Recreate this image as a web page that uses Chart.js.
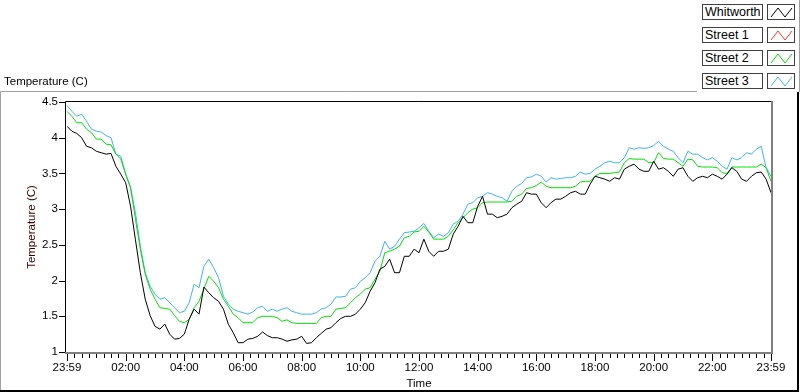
<!DOCTYPE html>
<html>
<head>
<meta charset="utf-8">
<script src="https://cdn.jsdelivr.net/npm/chart.js@4.4.1/dist/chart.umd.min.js"></script>
<style>
  html, body { margin: 0; padding: 0; background: #fff; }
  #wrap { position: relative; width: 800px; height: 392px; overflow: hidden; }
  #legend { position: absolute; left: 702px; top: 4px; font: 12.5px "Liberation Sans", sans-serif; color: #000; }
  .row { position: absolute; left: 0; width: 94px; height: 16px; }
  .name { position: absolute; left: 0; top: 0; width: 57px; height: 14px; border: 1px solid #404040; padding-left: 2px; line-height: 14px; background: #fff; white-space: nowrap; }
  .swatch { position: absolute; left: 65px; top: 0; width: 26px; height: 14px; border: 1px solid #404040; background: #fff; }
</style>
</head>
<body>
<div id="wrap">
  <canvas id="myChart" width="800" height="392"></canvas>
  <div id="legend"></div>
</div>
<script>
// minutes after 23:59, one sample every 10 minutes
const times = [
  0, 10, 20, 30, 40, 50, 60, 70, 80, 90, 100, 110, 120, 130, 140, 150, 160, 170, 180, 190,
  200, 210, 220, 230, 240, 250, 260, 270, 280, 290, 300, 310, 320, 330, 340, 350, 360, 370, 380, 390,
  400, 410, 420, 430, 440, 450, 460, 470, 480, 490, 500, 510, 520, 530, 540, 550, 560, 570, 580, 590,
  600, 610, 620, 630, 640, 650, 660, 670, 680, 690, 700, 710, 720, 730, 740, 750, 760, 770, 780, 790,
  800, 810, 820, 830, 840, 850, 860, 870, 880, 890, 900, 910, 920, 930, 940, 950, 960, 970, 980, 990,
  1000, 1010, 1020, 1030, 1040, 1050, 1060, 1070, 1080, 1090, 1100, 1110, 1120, 1130, 1140, 1150, 1160, 1170, 1180, 1190,
  1200, 1210, 1220, 1230, 1240, 1250, 1260, 1270, 1280, 1290, 1300, 1310, 1320, 1330, 1340, 1350, 1360, 1370, 1380, 1390,
  1400, 1410, 1420, 1430, 1440
];

const whitworth = [
  4.16, 4.09, 4.06, 4.00, 3.88, 3.86, 3.81, 3.79, 3.77, 3.78, 3.60, 3.49, 3.37, 3.04, 2.57, 2.11, 1.74, 1.51, 1.36, 1.32,
  1.39, 1.25, 1.18, 1.19, 1.25, 1.46, 1.60, 1.53, 1.91,
  1.83, 1.76, 1.71, 1.60, 1.39, 1.27, 1.13, 1.13, 1.18, 1.19, 1.22, 1.28, 1.23, 1.20, 1.20, 1.18, 1.15, 1.17, 1.18, 1.22,
  1.12, 1.13, 1.20, 1.26, 1.32, 1.34, 1.41, 1.47, 1.50,
  1.50, 1.53, 1.60, 1.69, 1.85, 1.97, 2.16, 2.20, 2.30, 2.11, 2.11, 2.34, 2.34, 2.44, 2.39, 2.58, 2.41, 2.34, 2.41, 2.41,
  2.44, 2.65, 2.76, 2.90, 2.81, 2.81, 3.04, 3.18, 2.93,
  2.93, 2.88, 2.90, 2.93, 3.02, 3.07, 3.11, 3.23, 3.21, 3.21, 3.09, 3.02, 3.09, 3.14, 3.14, 3.18, 3.23, 3.25, 3.21, 3.21,
  3.35, 3.46, 3.44, 3.42, 3.39, 3.44, 3.42, 3.56, 3.60,
  3.63, 3.56, 3.53, 3.53, 3.67, 3.56, 3.58, 3.53, 3.46, 3.56, 3.58, 3.46, 3.39, 3.44, 3.46, 3.44, 3.49, 3.46, 3.42, 3.49,
  3.58, 3.53, 3.42, 3.39, 3.46, 3.51, 3.52, 3.42, 3.23
];

// Street 1 has no trace on the graph
const street1 = [];

const street2 = [
  4.37, 4.30, 4.21, 4.21, 4.12, 4.07, 3.98, 3.98, 3.91, 3.90, 3.77, 3.70, 3.49, 3.30, 2.86, 2.44, 2.09, 1.88, 1.74, 1.62,
  1.61, 1.60, 1.51, 1.43, 1.41, 1.46, 1.62, 1.71, 1.88,
  2.06, 1.99, 1.90, 1.74, 1.64, 1.53, 1.48, 1.41, 1.41, 1.41, 1.48, 1.50, 1.50, 1.50, 1.48, 1.43, 1.45, 1.41, 1.40, 1.40,
  1.40, 1.40, 1.40, 1.48, 1.50, 1.50, 1.60, 1.61, 1.62,
  1.69, 1.76, 1.81, 1.88, 1.90, 2.02, 2.13, 2.39, 2.41, 2.44, 2.48, 2.60, 2.62, 2.68, 2.69, 2.76, 2.68, 2.58, 2.58, 2.58,
  2.62, 2.71, 2.81, 2.88, 2.95, 3.00, 3.02, 3.09, 3.10,
  3.10, 3.10, 3.10, 3.10, 3.11, 3.18, 3.21, 3.29, 3.30, 3.33, 3.38, 3.32, 3.30, 3.30, 3.30, 3.30, 3.30, 3.32, 3.38, 3.39,
  3.39, 3.46, 3.50, 3.50, 3.50, 3.51, 3.52, 3.65, 3.71,
  3.70, 3.70, 3.70, 3.65, 3.65, 3.79, 3.71, 3.70, 3.70, 3.65, 3.60, 3.70, 3.69, 3.60, 3.59, 3.59, 3.59, 3.58, 3.51, 3.50,
  3.59, 3.59, 3.59, 3.59, 3.59, 3.59, 3.63, 3.58, 3.39
];

const street3 = [
  4.45, 4.37, 4.30, 4.33, 4.23, 4.12, 4.09, 4.08, 4.03, 4.00, 3.77, 3.74, 3.49, 3.30, 2.95, 2.48, 2.11, 1.92, 1.81, 1.74,
  1.76, 1.69, 1.62, 1.55, 1.57, 1.69, 1.95, 1.90, 2.20,
  2.30, 2.18, 2.04, 1.78, 1.67, 1.60, 1.57, 1.55, 1.53, 1.56, 1.62, 1.64, 1.57, 1.60, 1.57, 1.60, 1.62, 1.57, 1.55, 1.53,
  1.53, 1.53, 1.55, 1.60, 1.62, 1.67, 1.77, 1.77, 1.78,
  1.88, 1.90, 1.99, 2.04, 2.11, 2.27, 2.34, 2.55, 2.44, 2.48, 2.58, 2.67, 2.68, 2.69, 2.74, 2.80, 2.69, 2.60, 2.65, 2.62,
  2.67, 2.79, 2.83, 2.93, 3.07, 3.09, 3.16, 3.18, 3.23,
  3.21, 3.18, 3.16, 3.11, 3.25, 3.32, 3.36, 3.44, 3.45, 3.49, 3.46, 3.38, 3.44, 3.42, 3.43, 3.44, 3.44, 3.46, 3.52, 3.49,
  3.50, 3.56, 3.60, 3.65, 3.67, 3.65, 3.65, 3.72, 3.86,
  3.84, 3.86, 3.85, 3.86, 3.89, 3.95, 3.88, 3.84, 3.81, 3.72, 3.65, 3.81, 3.77, 3.77, 3.72, 3.69, 3.72, 3.67, 3.60, 3.56,
  3.72, 3.69, 3.72, 3.79, 3.77, 3.84, 3.88, 3.58, 3.46
];

// one label every 120 minutes
const xTickLabels = ["23:59", "02:00", "04:00", "06:00", "08:00", "10:00", "12:00",
  "14:00", "16:00", "18:00", "20:00", "22:00", "23:59"];
const yTickLabels = ["1", "1.5", "2", "2.5", "3", "3.5", "4", "4.5"];

const seriesNames = ["Whitworth", "Street 1", "Street 2", "Street 3"];
const seriesColors = ["#000000", "#ff3030", "#00e000", "#3cb4f0"];

const FONT = "'Liberation Sans', Arial, sans-serif";

function toPoints(values) {
  return values.map((v, i) => ({ x: times[i], y: v }));
}

// sunken frames and tick marks in the LabVIEW style
const graphFrame = {
  id: "graphFrame",
  afterDraw(chart) {
    const ctx = chart.ctx;
    const a = chart.chartArea;
    const xs = chart.scales.x;
    const ys = chart.scales.y;
    ctx.save();
    ctx.lineWidth = 1;

    ctx.strokeStyle = "#000";
    ctx.beginPath();
    xs.ticks.forEach(t => {
      const px = Math.round(xs.getPixelForValue(t.value)) + 0.5;
      const major = t.value % 120 === 0;
      ctx.moveTo(px, a.bottom + 2);
      ctx.lineTo(px, a.bottom + (major ? 9 : 6));
    });
    ys.ticks.forEach(t => {
      const py = Math.round(ys.getPixelForValue(t.value)) + 0.5;
      ctx.moveTo(a.left - 8, py);
      ctx.lineTo(a.left - 2, py);
    });
    ctx.stroke();

    // plot border: dark top/left, grey bottom/right
    ctx.strokeStyle = "#000";
    ctx.beginPath();
    ctx.moveTo(a.left - 1.5, a.bottom + 1);
    ctx.lineTo(a.left - 1.5, a.top - 0.5);
    ctx.lineTo(a.right + 1, a.top - 0.5);
    ctx.stroke();
    ctx.strokeStyle = "#808080";
    ctx.lineWidth = 2;
    ctx.beginPath();
    ctx.moveTo(a.left - 2, a.bottom + 1);
    ctx.lineTo(a.right + 1, a.bottom + 1);
    ctx.lineTo(a.right + 1, a.top - 1);
    ctx.stroke();

    // outer frame of the graph
    ctx.lineWidth = 1;
    ctx.strokeStyle = "#a0a0a0";
    ctx.beginPath();
    ctx.moveTo(0.5, 390);
    ctx.lineTo(0.5, 91.5);
    ctx.lineTo(697, 91.5);
    ctx.moveTo(799.5, 0);
    ctx.lineTo(799.5, 92);
    ctx.stroke();
    ctx.strokeStyle = "#000";
    ctx.lineWidth = 2;
    ctx.beginPath();
    ctx.moveTo(0, 391);
    ctx.lineTo(798, 391);
    ctx.lineTo(798, 92);
    ctx.stroke();
    ctx.restore();
  }
};

const datasets = [whitworth, street1, street2, street3].map((vals, i) => ({
  label: seriesNames[i],
  data: toPoints(vals),
  borderColor: seriesColors[i],
  backgroundColor: seriesColors[i],
  borderWidth: 1,
  pointRadius: 0,
  tension: 0,
  fill: false
}));

const ctx = document.getElementById("myChart").getContext("2d");
const chart = new Chart(ctx, {
  type: "line",
  data: { datasets: datasets },
  options: {
    responsive: false,
    animation: false,
    layout: { padding: { left: 4, right: 29, top: 0, bottom: 0 } },
    plugins: {
      legend: { display: false },
      tooltip: { enabled: false },
      title: {
        display: true,
        text: "Temperature (C)",
        align: "start",
        color: "#000",
        font: { family: FONT, size: 11.5, weight: "normal" },
        padding: { top: 75, bottom: 13.2 }
      }
    },
    scales: {
      x: {
        type: "linear",
        min: 0,
        max: 1440,
        afterFit: s => { s.height = 40; },
        grid: { display: false, drawTicks: false },
        border: { display: false },
        ticks: {
          stepSize: 15,
          autoSkip: false,
          maxRotation: 0,
          padding: 9,
          color: "#000",
          font: { family: FONT, size: 11.5 },
          callback: v => (v % 120 === 0 ? xTickLabels[v / 120] : "")
        },
        title: {
          display: true,
          text: "Time",
          color: "#000",
          font: { family: FONT, size: 11.5 },
          padding: { top: 0, bottom: 1 }
        }
      },
      y: {
        min: 1,
        max: 4.5,
        afterFit: s => { s.width = 63; },
        grid: { display: false, drawTicks: false },
        border: { display: false },
        ticks: {
          stepSize: 0.5,
          padding: 9,
          color: "#000",
          font: { family: FONT, size: 11.5 },
          callback: v => yTickLabels[Math.round((v - 1) * 2)]
        },
        title: {
          display: true,
          text: "Temperature (C)",
          color: "#400000",
          font: { family: FONT, size: 11.5 },
          padding: { top: 21, bottom: 0 }
        }
      }
    }
  },
  plugins: [graphFrame]
});

// legend boxes on the right, built from the datasets
const legend = document.getElementById("legend");
chart.data.datasets.forEach((ds, i) => {
  const row = document.createElement("div");
  row.className = "row";
  row.style.top = (i * 23) + "px";
  row.innerHTML = `
    <div class="name">${ds.label}</div>
    <div class="swatch"><svg width="26" height="14"><polyline points="3,12 10,3 17,12 24,3"
      fill="none" stroke="${ds.borderColor}" stroke-width="1"/></svg></div>`;
  legend.appendChild(row);
});
</script>
</body>
</html>
